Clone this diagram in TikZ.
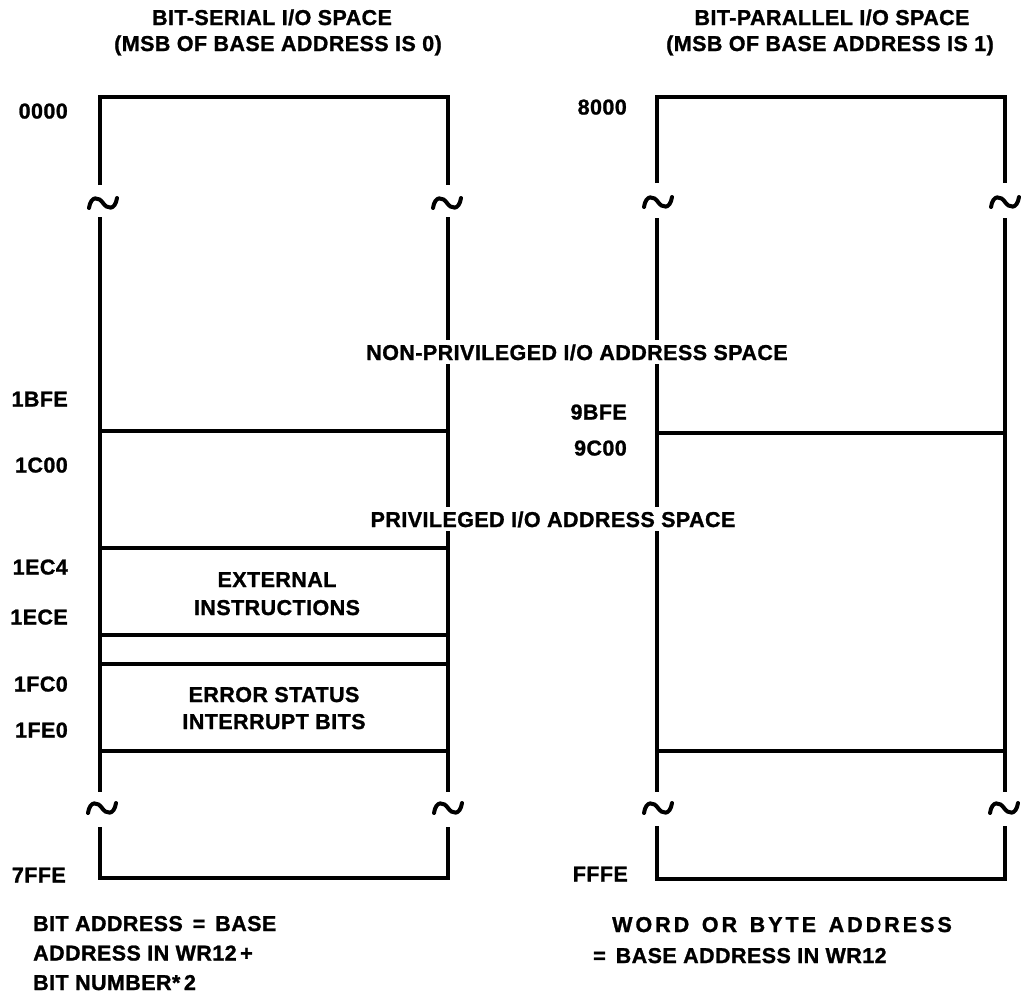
\documentclass[tikz,border=0pt]{standalone}
\usepackage{fontspec}
\newfontfamily\lblfont[LetterSpace=2,BoldFeatures={FakeBold=1.2}]{Liberation Sans}
\newfontfamily\widefont[LetterSpace=14,BoldFeatures={FakeBold=1.2}]{Liberation Sans}
\begin{document}
\begin{tikzpicture}[x=1pt,y=-1pt,
  wall/.style={line width=3.5pt,line join=miter},
  sep/.style={line width=3.2pt},
  lbl/.style={font=\fontsize{21.5}{28}\selectfont\lblfont\bfseries,inner sep=0pt},
  addr/.style={lbl,anchor=base east},
  cut/.style={lbl,fill=white,inner xsep=1pt,inner ysep=4pt},
  brk/.pic={\draw[line width=4pt,line cap=round] (-14,5) .. controls (-12,-8) and (-4,-6) .. (0,0) .. controls (4,6) and (12,8) .. (14,-5);}
]
\useasboundingbox (0,0) rectangle (1027,993);

% ---------- left (bit-serial) column ----------
\draw[wall] (100,185) -- (100,97) -- (448,97) -- (448,185);
\draw[wall] (100,217) -- (100,792);
\draw[wall] (448,217) -- (448,792);
\draw[wall] (100,827) -- (100,878) -- (448,878) -- (448,827);
\foreach \yy in {431,548,635,664,751} \draw[sep] (100,\yy) -- (448,\yy);
\pic at (103,203) {brk};
\pic at (447,203) {brk};
\pic at (102,808) {brk};
\pic at (448,808) {brk};

% ---------- right (bit-parallel) column ----------
\draw[wall] (657,183) -- (657,97) -- (1005,97) -- (1005,183);
\draw[wall] (657,218) -- (657,792);
\draw[wall] (1005,218) -- (1005,792);
\draw[wall] (657,826) -- (657,879) -- (1005,879) -- (1005,826);
\foreach \yy in {433,751} \draw[sep] (657,\yy) -- (1005,\yy);
\pic at (658,202) {brk};
\pic at (1005,202) {brk};
\pic at (658,808) {brk};
\pic at (1004,808) {brk};

% ---------- titles ----------
\node[lbl,anchor=base] (t1) at (272,25) {BIT-SERIAL I/O SPACE};
\node[lbl,anchor=base] (t2) at (278,51) {(MSB OF BASE ADDRESS IS 0)};
\node[lbl,anchor=base] (t3) at (832,25) {BIT-PARALLEL I/O SPACE};
\node[lbl,anchor=base] (t4) at (830,51) {(MSB OF BASE ADDRESS IS 1)};

% ---------- addresses ----------
\node[addr] (a0000) at (68,118.5) {0000};
\node[addr] (a1BFE) at (68,406.5) {1BFE};
\node[addr] (a1C00) at (68,472.5) {1C00};
\node[addr] (a1EC4) at (68,574.5) {1EC4};
\node[addr] (a1ECE) at (68,624.5) {1ECE};
\node[addr] (a1FC0) at (68,691.5) {1FC0};
\node[addr] (a1FE0) at (68,737.5) {1FE0};
\node[addr] (a7FFE) at (66,882.5) {7FFE};
\node[addr] (a8000) at (627,114.5) {8000};
\node[addr] (a9BFE) at (627,419.5) {9BFE};
\node[addr] (a9C00) at (627,455.5) {9C00};
\node[addr] (aFFFE) at (628,881.5) {FFFE};

% ---------- region labels ----------
\node[cut,anchor=base] (np) at (577,360) {NON-PRIVILEGED I/O ADDRESS SPACE};
\node[cut,anchor=base] (pr) at (553,527) {PRIVILEGED I/O ADDRESS SPACE};
\node[lbl,anchor=base,align=center] (ext) at (277,615) {EXTERNAL\\INSTRUCTIONS};
\node[lbl,anchor=base,align=center,font=\fontsize{21.5}{27}\selectfont\lblfont\bfseries] (err) at (274,729) {ERROR STATUS\\INTERRUPT BITS};

% ---------- notes ----------
\node[lbl,anchor=base west,align=left,font=\fontsize{21.5}{29.5}\selectfont\lblfont\bfseries] (n1) at (33,990) {BIT ADDRESS \,=\, BASE\\ADDRESS IN WR12\,+\\BIT NUMBER*\,2};
\node[lbl,anchor=base west,font=\fontsize{21.5}{29.5}\selectfont\widefont\bfseries] (n2) at (612,932) {WORD \,OR \,BYTE \,ADDRESS};
\node[lbl,anchor=base west] (n3) at (593,963) {= \,BASE ADDRESS IN WR12};
\end{tikzpicture}
\end{document}
